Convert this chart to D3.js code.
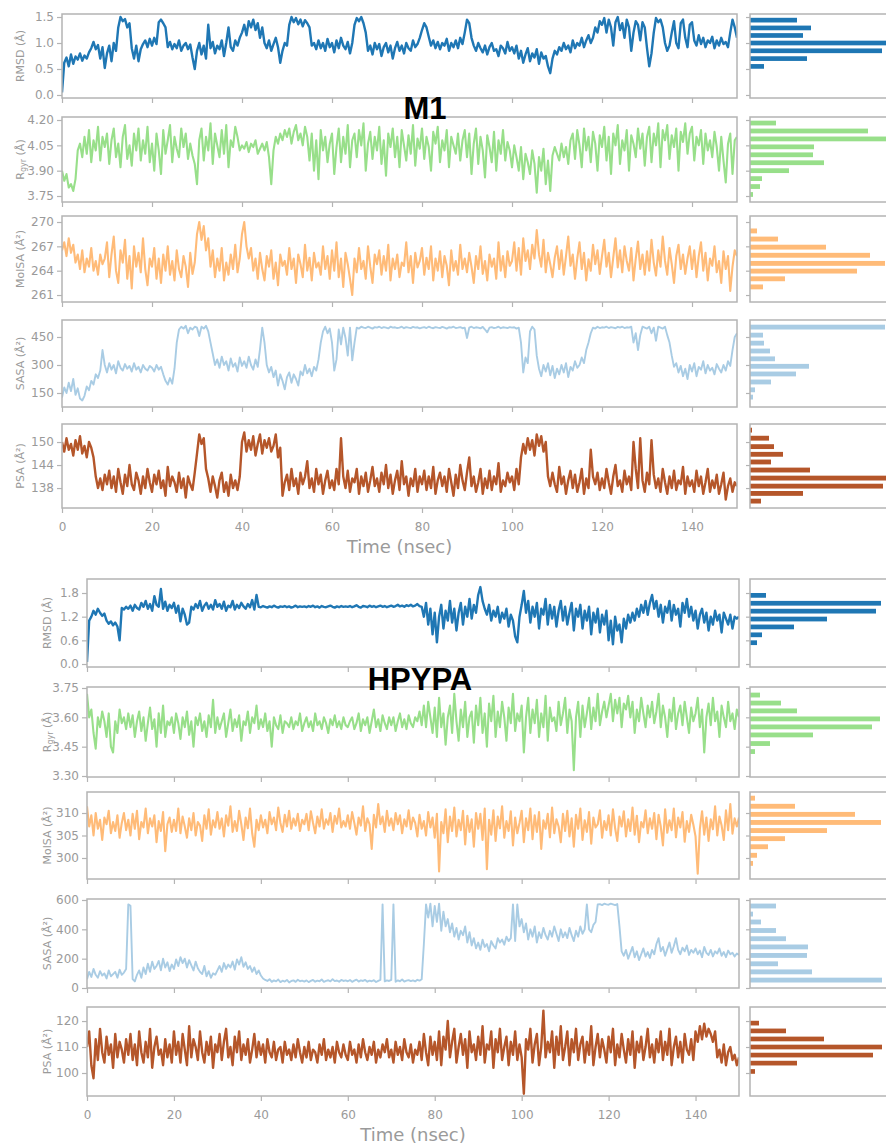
<!DOCTYPE html>
<html><head><meta charset="utf-8">
<script src="https://cdn.jsdelivr.net/npm/d3@7"></script>
<style>body{margin:0;background:#fff}svg{display:block}</style>
</head><body>
<svg id="chart" width="886" height="1146"></svg>
<script>
// ---------- DATA ----------
const timeStep = 0.5; // ns between samples
const xTickValues = [0, 20, 40, 60, 80, 100, 120, 140];
const figureTitles = ["M1", "HPYPA"];
const axisTitle = "Time (nsec)";
const seriesLabels = ["RMSD (Å)", "Rgyr (Å)", "MolSA (Å²)", "SASA (Å²)", "PSA (Å²)"];

// M1 time series
const m1Rmsd = [
0.05,0.62,0.72,0.55,0.78,0.6,0.74,0.68,0.8,0.66,0.76,0.7,0.82,0.9,1.02,0.88,0.96,0.7,0.92,0.52,
0.8,0.95,0.65,1.0,0.85,1.3,1.5,1.42,1.46,1.3,1.38,0.9,0.7,0.95,0.65,0.88,0.98,1.05,0.92,1.08,
0.95,1.1,0.98,1.4,1.45,1.38,1.3,0.92,1.02,0.88,0.98,0.9,1.05,0.85,0.95,1.0,0.88,0.97,0.72,0.5,
0.85,1.0,0.78,0.95,0.7,1.35,0.9,1.02,0.8,0.95,0.88,1.05,0.75,1.0,1.3,0.92,0.85,1.05,0.95,1.1,
1.2,1.35,1.15,1.42,1.3,1.45,1.25,1.38,1.1,1.3,1.0,0.9,1.05,0.85,0.98,1.1,0.92,0.62,0.85,1.0,
0.95,1.35,1.5,1.4,1.48,1.36,1.45,1.32,1.44,1.38,1.3,0.95,1.0,0.88,1.05,0.9,1.0,0.85,1.08,0.92,
1.0,0.82,1.05,0.9,1.1,0.95,0.88,1.02,0.8,1.0,1.35,1.48,1.42,1.5,1.38,1.2,0.85,0.95,0.78,1.0,
0.88,0.98,0.75,0.92,1.0,0.82,0.95,0.7,0.9,1.02,0.85,0.95,0.8,1.0,0.9,0.85,1.05,0.92,0.98,1.1,
1.25,1.38,1.3,1.12,0.95,1.05,0.9,1.02,0.88,1.0,0.95,1.08,0.85,1.0,0.92,1.05,0.9,1.1,0.98,1.2,
1.45,1.38,1.1,0.95,0.85,1.0,0.9,0.82,0.95,0.78,0.92,1.0,0.85,0.88,0.75,0.95,0.9,0.8,1.02,0.85,
0.92,0.8,0.95,0.7,0.85,0.62,0.78,0.9,0.65,0.8,0.72,0.88,0.6,0.82,0.7,0.75,0.55,0.42,0.7,0.85,
0.78,0.92,0.85,1.0,0.88,0.95,0.82,1.05,0.9,1.0,0.95,1.1,0.92,1.05,1.15,1.0,1.1,1.3,1.2,1.42,
1.35,1.48,1.2,1.45,1.3,0.95,1.4,1.5,1.25,1.38,1.1,1.45,1.3,0.85,1.2,1.42,1.35,1.05,1.4,1.3,
0.9,0.55,0.8,1.2,1.48,1.4,1.45,1.3,1.0,0.85,0.95,1.2,1.42,1.0,0.9,1.38,1.45,1.1,0.92,1.35,
1.4,1.05,0.95,1.15,0.98,1.1,0.92,1.05,1.0,1.12,0.9,1.05,0.95,1.1,0.98,1.02,0.92,1.2,1.45,1.3,
1.1];
const m1Rgyr = [
3.9,3.84,3.88,3.8,3.82,3.78,3.85,4.02,4.06,3.98,4.1,4.0,4.14,3.95,4.08,4.02,4.16,3.96,4.1,4.04,
4.12,3.94,4.08,4.15,3.98,4.06,3.92,4.1,4.17,3.97,4.05,3.93,4.12,4.02,4.15,3.96,4.08,4.0,4.16,3.95,
4.06,3.9,4.12,4.02,3.88,4.14,4.0,4.08,4.17,3.95,4.1,4.03,3.98,4.15,4.04,4.12,3.97,4.06,3.99,3.94,
3.82,4.08,4.15,3.96,4.1,4.02,4.18,3.94,4.12,4.05,3.98,4.14,4.0,4.17,3.92,4.08,4.04,4.16,4.1,4.02,
4.05,4.03,4.07,4.01,4.06,4.04,4.08,4.0,4.03,4.06,4.02,4.07,3.98,3.82,4.02,4.1,4.06,4.12,4.08,4.14,
4.1,4.15,4.06,4.13,4.17,4.08,4.12,4.05,4.16,4.1,3.96,4.12,3.9,4.08,3.85,4.14,4.02,4.1,3.95,4.06,
4.12,3.88,4.04,4.15,3.95,4.1,4.0,4.17,3.92,4.08,4.12,3.98,4.14,4.05,4.18,3.9,4.06,4.13,3.97,4.1,
4.02,4.16,3.94,4.08,3.87,4.12,4.04,4.15,3.98,4.1,3.92,4.14,4.05,3.96,4.11,4.0,4.17,3.93,4.09,4.03,
4.15,3.97,4.1,4.04,3.9,4.13,4.06,4.16,3.95,4.08,4.02,4.14,3.92,4.1,4.05,4.0,4.12,3.96,4.08,4.14,
3.98,4.12,3.88,4.06,4.15,3.94,4.1,4.02,3.86,4.11,4.04,3.95,4.13,3.9,4.08,4.0,4.14,3.96,4.07,4.02,
3.92,4.05,3.98,3.9,4.04,3.85,4.0,3.95,3.88,4.02,3.94,3.77,3.98,3.9,4.03,3.82,3.96,3.78,3.99,4.04,
4.0,3.96,4.06,3.98,4.04,3.94,4.08,4.12,3.97,4.14,4.05,3.92,4.15,4.02,4.1,3.95,4.13,4.06,3.9,4.11,
4.04,4.16,3.96,4.1,3.88,4.12,4.05,4.17,3.94,4.08,4.02,4.14,3.9,4.11,4.06,3.98,4.15,4.03,4.12,3.93,
4.1,4.16,3.95,4.12,4.05,4.18,3.92,4.14,4.08,4.17,3.97,4.11,4.04,4.15,3.9,4.13,4.07,4.18,4.0,4.12,
4.16,3.96,4.1,4.05,4.14,3.94,4.12,4.02,4.08,3.98,4.13,4.04,3.9,4.1,3.96,3.83,4.06,4.12,3.88,4.08,
4.1];
const m1MolSA = [
266.5,267.5,265.8,268,266.2,267.2,265,266,264.2,266.5,263.8,265.5,264.5,266.8,264,265.2,263.5,266,264.8,265.5,
267.5,263.2,266,268.2,264,262.5,266.5,265,267.8,263,265.8,261.8,267,264.5,266.2,263.8,268,264.2,262.2,265.5,
264.5,266.8,263,265.5,262.5,266,264,267,263.5,265.2,262.8,266.5,264.2,263.2,265.8,264.5,262,266.2,263.6,265,
268.5,270,267.8,269.5,266.5,268,264.5,266.5,263.2,265.5,264,266.8,262.8,265,263.5,266,264.2,267.2,263.8,265.5,
268.5,270,267,265.5,266.8,264,265.5,263,266.2,264.2,262.8,265.8,264.5,266.5,263,265,262.2,266,264.6,265.2,
263.5,266.8,264.2,265.5,262.5,266,264.8,263.2,267.2,264,265.6,262.8,266.2,264.4,265,263.5,267,264.2,265.8,263,
266.5,264,267.5,263.2,265.5,262,266.2,264.8,263,261,265.5,263.8,266.8,264.2,265.2,263,267,264.5,262.5,266,
264.8,266.5,263.5,265.8,264,267.2,262.8,265.5,264.2,266,263.2,265,264.6,267.5,263.8,265.8,262.5,266.2,264.4,265.2,
266.8,263.5,265.6,264.2,267,262.8,265.5,264,266.4,263.2,265.8,264.6,262.2,266.5,264,265.2,263.5,267.2,264.2,265.5,
263.8,266.2,264.5,262.5,265.8,264.2,267,263.6,265.2,262.8,266,264.5,265.5,263,267.5,264,265.8,263.2,266.4,264.6,
265.2,267.5,264,266.8,263.5,268,265.2,266.5,264.2,267.2,265.5,269,266,264.5,267.8,263.8,266.2,264.8,263.2,265.6,
267,264.2,266.5,263.5,265.8,268.2,264.6,266,263,265.5,267.5,264.2,266.2,262.8,265.4,264,267.2,264.8,266.5,263.6,
265.8,267.8,264.5,266.2,263.2,265.6,268,264.4,266.5,263.8,267,265.2,264,266.8,262.8,265.5,267.6,264.2,266,263.5,
266.4,264,267.8,265,263.4,266.5,264.5,268.2,265.2,263.5,266.8,264.8,262.5,265.8,267.2,264.2,266,263.6,265.5,267,
264.2,266.5,263.2,265.8,267.5,264,266.2,262.8,265.5,264.6,267,263.8,265.2,262.5,266.4,264.2,265.8,261.5,264.5,266.5,
265.8];
const m1Sasa = [
125,180,150,205,160,225,140,175,120,110,135,185,165,215,195,250,230,270,380,300,
260,310,275,300,255,320,285,270,305,280,295,265,310,275,290,260,300,280,270,295,
285,265,300,275,290,250,215,195,230,200,280,420,490,505,495,510,470,500,490,505,
500,455,505,495,510,480,420,360,300,330,285,345,300,320,270,335,290,310,265,340,
295,320,285,345,300,275,330,290,385,500,420,300,260,290,235,270,190,250,215,170,
235,260,205,250,225,190,265,245,300,255,280,240,290,270,330,420,480,505,470,495,
420,270,330,490,410,500,445,350,500,325,420,500,495,505,500,498,505,500,495,503,
500,505,498,503,500,496,505,500,502,498,500,505,497,503,500,498,504,500,502,496,
500,503,498,505,500,497,503,500,498,504,500,495,502,500,505,498,500,503,497,500,
445,500,505,498,502,500,496,504,490,475,500,503,498,500,505,497,502,500,498,503,
500,502,495,500,420,260,340,310,480,505,490,350,280,240,300,265,310,245,295,230,
280,250,300,260,310,235,290,270,320,285,300,340,310,380,420,470,500,495,505,498,
502,500,505,498,503,500,497,504,500,505,498,502,500,505,420,470,380,460,505,500,
495,505,470,500,430,505,500,495,505,460,420,350,290,310,260,295,240,280,225,300,
265,310,240,290,275,320,255,300,270,285,250,305,280,260,300,270,320,295,380,450,
470];
const m1Psa = [
150,147.5,151,148,149.5,146.5,150.5,148,151.5,147,149,146,150,148.5,146,141,138,140.5,137.5,141.5,
139,142.5,138,141,137,143,139.5,136.5,141.5,138.5,144,139,137.5,142,140,136.5,141,138,143,139.5,
137,141.5,139,142.5,138,140,136,143.5,138.5,141,139.5,137,142,138,140.5,135.5,141,139,137.5,142,
147,152,149.5,151,143,140.5,137,141,138.5,135.5,140,142,137,139.5,136,141.5,138,140,137.5,141,
150,152.5,147.5,150.5,148,151.5,146.5,149.5,152,147,150.5,148.5,151,147.5,149,152,146,148.5,136,139.5,
141.5,137.5,143,138.5,140.5,136.5,142,139,141,145,138,140.5,137,143,139,141.5,136.5,140,142.5,138,
140,137.5,143,139,151,141,138,142.5,137,140.5,139.5,143,136.5,141,138.5,142,137,140,143.5,138.5,
140.5,137,142,139,144,138,141.5,136.5,140,142.5,137.5,145,139,141,136,140.5,138.5,143,137,141,
139,142.5,137.5,141,138,143.5,136.5,140,142,138.5,141,137,143,139.5,136,141.5,138,144,140,137.5,
142,146,138.5,141,137,139.5,143,136.5,140.5,138,142.5,137.5,141,139,144.5,137,140,138.5,142,139.5,
141,137.5,143,139,146,149.5,147,151,148,150.5,146.5,152,149,151.5,147.5,150,141,138.5,142,139,
137,143.5,139,141,136.5,140,142.5,138,141.5,137,139.5,143,136.5,140.5,138,148,141,139,142,137.5,
140.5,138,143,139.5,136.5,141,144,138.5,140,137,142.5,139,141,137.5,150,143,138,151,140,137,
142,139,150.5,141.5,138,140.5,137,143,139.5,136.5,141,138,142.5,137.5,140,139,143.5,136.5,141,138.5,
140,137,142.5,138.5,141,136.5,139.5,143,137,140,138,141.5,136.5,139,142,135,138.5,140.5,137,139.5,
138.5];

// HPYPA time series
const hpRmsd = [
0.05,1.1,1.2,1.35,1.25,1.4,1.3,1.22,1.28,1.1,1.02,1.08,0.98,1.05,0.95,0.6,1.42,1.38,1.45,1.4,
1.48,1.35,1.5,1.42,1.38,1.55,1.45,1.6,1.4,1.52,1.35,1.72,1.5,1.45,1.9,1.4,1.58,1.35,1.5,1.42,
1.55,1.3,1.48,1.08,1.4,1.25,1.0,1.05,1.45,1.38,1.52,1.42,1.6,1.35,1.48,1.55,1.4,1.5,1.38,1.62,
1.45,1.52,1.4,1.58,1.35,1.48,1.44,1.6,1.38,1.5,1.42,1.55,1.46,1.4,1.52,1.44,1.62,1.38,1.75,1.45,
1.44,1.47,1.45,1.43,1.46,1.44,1.48,1.45,1.43,1.46,1.45,1.47,1.44,1.46,1.43,1.45,1.48,1.44,1.46,1.45,
1.46,1.44,1.47,1.45,1.48,1.44,1.46,1.43,1.47,1.45,1.44,1.46,1.48,1.45,1.43,1.46,1.44,1.47,1.45,1.46,
1.45,1.47,1.44,1.46,1.49,1.45,1.43,1.47,1.46,1.44,1.48,1.45,1.47,1.44,1.46,1.48,1.45,1.47,1.44,1.46,
1.48,1.45,1.47,1.5,1.46,1.48,1.45,1.49,1.47,1.5,1.46,1.48,1.52,1.47,1.45,1.2,1.55,1.0,1.4,0.75,
1.3,0.55,1.2,1.5,0.9,1.35,1.1,1.6,1.05,1.4,0.85,1.3,1.55,1.0,1.45,1.2,1.65,1.15,1.5,1.3,
1.75,1.95,1.6,1.4,1.25,1.5,1.1,1.35,1.2,1.45,1.05,1.3,1.15,1.4,0.95,1.25,1.1,0.7,0.55,1.2,
1.5,1.85,1.3,1.6,1.05,1.45,1.2,1.55,0.9,1.4,1.25,1.65,1.0,1.5,1.15,1.45,0.95,1.35,1.6,1.1,
1.45,1.0,1.3,1.55,0.85,1.4,1.2,1.5,0.9,1.35,1.1,1.45,0.75,1.3,1.05,1.4,0.8,1.25,1.0,1.35,
0.6,1.1,0.5,1.2,0.85,1.0,0.55,1.15,0.9,1.25,1.05,1.3,1.1,1.4,1.2,1.5,1.3,1.6,1.25,1.55,
1.75,1.4,1.6,1.2,1.5,1.05,1.45,1.3,1.6,1.1,1.5,1.25,1.4,0.95,1.55,1.3,1.65,1.2,1.45,1.1,
1.35,0.9,1.25,1.4,1.05,1.3,0.85,1.2,1.0,1.35,1.1,1.25,0.8,1.3,1.15,1.0,1.25,0.9,1.2,1.15,
1.2];
const hpRgyr = [
3.72,3.6,3.64,3.52,3.44,3.6,3.55,3.63,3.58,3.5,3.62,3.45,3.42,3.58,3.52,3.64,3.57,3.6,3.54,3.62,
3.55,3.61,3.5,3.58,3.63,3.53,3.6,3.48,3.57,3.65,3.54,3.59,3.45,3.62,3.52,3.66,3.5,3.58,3.56,3.6,
3.52,3.62,3.57,3.49,3.6,3.55,3.63,3.51,3.58,3.45,3.6,3.56,3.62,3.53,3.58,3.5,3.61,3.55,3.69,3.52,
3.6,3.54,3.58,3.62,3.5,3.57,3.64,3.53,3.59,3.55,3.61,3.48,3.58,3.56,3.63,3.52,3.6,3.57,3.66,3.54,
3.59,3.55,3.62,3.53,3.58,3.45,3.6,3.56,3.54,3.61,3.52,3.58,3.57,3.55,3.6,3.54,3.58,3.56,3.62,3.53,
3.57,3.6,3.55,3.58,3.53,3.62,3.56,3.58,3.54,3.6,3.57,3.52,3.59,3.56,3.61,3.55,3.58,3.54,3.6,3.56,
3.55,3.58,3.6,3.54,3.57,3.62,3.53,3.59,3.56,3.6,3.52,3.58,3.64,3.55,3.59,3.53,3.61,3.57,3.54,3.6,
3.56,3.6,3.53,3.58,3.62,3.55,3.59,3.54,3.61,3.57,3.55,3.6,3.58,3.63,3.56,3.66,3.55,3.68,3.6,3.52,
3.65,3.5,3.7,3.55,3.62,3.46,3.6,3.66,3.52,3.72,3.58,3.48,3.64,3.55,3.68,3.5,3.6,3.63,3.47,3.66,
3.56,3.7,3.52,3.62,3.45,3.67,3.58,3.71,3.5,3.63,3.55,3.68,3.6,3.48,3.65,3.57,3.72,3.53,3.62,3.58,
3.66,3.42,3.6,3.7,3.52,3.64,3.57,3.69,3.5,3.62,3.55,3.71,3.48,3.65,3.58,3.6,3.53,3.68,3.56,3.62,
3.7,3.52,3.64,3.58,3.33,3.6,3.68,3.5,3.66,3.55,3.62,3.7,3.54,3.65,3.58,3.72,3.56,3.63,3.68,3.6,
3.66,3.72,3.58,3.69,3.62,3.7,3.55,3.67,3.64,3.71,3.6,3.68,3.52,3.64,3.58,3.7,3.62,3.55,3.66,3.6,
3.68,3.57,3.63,3.72,3.55,3.66,3.6,3.5,3.64,3.58,3.7,3.54,3.62,3.66,3.56,3.68,3.6,3.52,3.65,3.58,
3.62,3.7,3.55,3.64,3.42,3.6,3.67,3.56,3.7,3.58,3.63,3.5,3.66,3.6,3.55,3.68,3.58,3.62,3.54,3.64,
3.6];
const hpMolSA = [
311.5,307,309.5,305,310,306.5,308.5,304,309,307.5,310.5,305.5,308,306,309.5,304.5,307.8,310,306.2,308.5,
305,309.8,306.5,310.5,304.2,308,306.8,311,305.5,308.8,307,309.5,303.5,308.2,306,310.2,301.5,307.5,309,305.8,
308.5,306,311,305.5,309.2,307,304.5,308.8,306.2,310,305,308,307.2,303.8,309.5,306.5,310.8,305.2,308.4,306.8,
310.2,306.5,308.8,304.8,309.5,307.2,311.5,305.8,308.2,306,310.5,307.5,304,309,306.6,311,305.5,302.5,308.5,306.2,
309.5,306.8,308.5,305.5,310.2,307.5,309,306.2,311.2,307.8,305.8,309.6,307,310.5,306.5,308.8,307.2,309.8,306,308.5,
307.5,309.8,306.2,310.4,307.8,305.5,309.2,307,310.8,306.5,308.6,307.4,310,305.8,309.4,307.6,311,306.8,308.2,307,
309.5,306.5,310.2,307.8,305.2,309,307.2,311.5,306,308.8,307.5,302,309.6,306.8,312,307.5,309.2,305.8,310.5,307.2,
308.8,306.2,310,307.5,309.5,305.5,308.6,307,310.6,306.4,309,307.8,304.8,309.6,306.5,308.2,305,310.2,306.8,309,
304.5,309.8,297,308,305.5,310.8,303.5,309.2,306,311.2,304.8,308.5,306.2,310.5,303,309.4,305.8,308.6,302.5,310,
306.5,309.8,304,311,297.5,308.5,305.2,310.6,303.8,309.2,306.6,311.5,304.5,308.2,306,310.4,302.8,309,305.5,307.8,
310.5,303.5,308.8,306.2,311,304.2,309.5,305.8,310.2,302,308.4,306.5,309.8,304.6,311.2,305.5,308.6,307,303.5,309.8,
306,310.5,304.8,308.8,302.5,309.6,306.5,311,304,308.4,305.8,310.2,303.2,309,306.8,307.5,310.6,304.5,308.2,306.2,
309.5,305,310.8,306.6,303.8,309.2,307,310.4,304.8,308.6,306,311.2,305.2,309.4,303.5,308,306.8,310.6,305.5,308.8,
306.5,310,304.2,309.6,307,302.8,310.8,305.6,308.4,306.2,311,304.6,309,306.8,310.2,303.6,308.2,305.8,309.6,307.4,
304.8,296.5,306.5,310.4,305.2,309,303.8,308.6,306.4,311.5,305,309.2,307.2,304,310.6,306.2,312,305.4,308.8,307,
309];
const hpSasa = [
60,110,75,130,90,70,115,85,100,65,120,80,95,110,70,125,90,105,130,570,
560,60,45,90,120,70,140,95,165,110,180,130,150,185,120,200,140,175,115,160,
130,195,150,210,170,200,140,190,155,120,180,135,110,95,150,80,115,70,100,90,
120,150,110,170,130,160,140,180,125,195,160,210,145,175,130,150,110,140,95,120,
85,65,55,48,60,42,52,45,58,40,50,44,55,38,48,52,42,56,46,50,
44,52,40,48,55,43,50,46,58,42,49,53,45,60,47,51,43,55,48,52,
46,54,42,50,57,44,52,48,55,43,50,46,53,41,49,55,570,45,52,48,
55,570,43,52,46,58,44,50,54,47,52,45,56,50,60,300,570,480,575,420,
560,450,575,390,520,420,470,380,440,350,410,330,390,360,420,310,380,290,340,270,
310,260,330,280,300,250,320,290,270,340,310,330,295,350,320,340,570,320,570,420,
470,380,440,330,400,350,420,310,380,340,410,360,330,390,350,420,370,320,400,345,
380,340,410,360,320,390,350,420,370,400,570,400,380,430,450,570,572,565,575,570,
568,575,570,565,572,420,250,220,260,200,240,280,210,250,190,230,270,215,245,205,
260,230,300,340,250,280,220,265,310,240,285,340,260,230,275,250,290,225,260,240,
270,230,255,210,280,240,225,260,215,250,235,270,220,245,210,255,230,240,215,235,
225];
const hpPsa = [
110,116,103,98,113,105,117,108,104,114,107,111,102,115,106,112,109,104,113,107,
115,105,111,103,116,108,104,112,106,117,102,110,114,107,109,103,113,106,111,104,
116,107,112,104,115,109,103,118,106,113,110,105,116,108,104,112,107,114,102,111,
108,115,105,112,117,106,110,103,114,108,116,105,111,107,113,104,109,115,106,112,
107,111,104,113,108,106,112,105,109,110,104,112,107,109,105,111,106,113,108,104,
110,106,112,105,109,108,104,111,107,113,105,109,106,110,104,112,108,106,111,107,
105,112,107,109,104,111,106,113,108,105,110,107,112,104,109,106,111,108,113,106,
109,104,112,107,110,105,113,108,106,111,104,109,107,112,105,115,108,103,114,107,
112,105,116,103,114,109,120,106,112,117,104,110,115,107,113,102,116,108,111,105,
114,107,118,104,111,109,116,102,113,108,117,105,110,114,103,112,107,116,105,111,
106,92,113,109,117,104,111,115,103,110,124,106,112,108,116,102,114,107,118,105,
110,116,103,113,108,117,105,111,114,104,112,107,118,103,110,115,106,113,109,104,
114,108,117,103,111,106,115,109,104,113,107,116,102,112,108,114,105,110,117,106,
111,104,113,108,116,105,112,107,117,103,110,114,106,112,104,115,109,107,113,105,
116,112,118,113,119,114,117,115,112,116,106,109,104,111,103,108,110,105,107,103,
106];

// Histograms (bin centre, relative count)
const m1RmsdBins = [1.44,1.29,1.145,1.0,0.85,0.7,0.55];
const m1RmsdCounts = [47,61,53,136,132,57,14];
const m1RgyrBins = [4.182,4.135,4.088,4.041,3.994,3.947,3.9,3.853,3.806,3.759];
const m1RgyrCounts = [26,118,136,64,63,74,39,12,10,3];
const m1MolSABins = [268.9,267.9,266.9,265.9,264.9,263.95,263.0,262.0];
const m1MolSACounts = [7,28,76,120,135,107,35,13];
const m1SasaBins = [503,460,417,375,333,293,252,209,167,128];
const m1SasaCounts = [135,13,14,20,25,59,46,21,5,3];
const m1PsaBins = [153.1,151.0,148.8,146.8,144.8,142.7,140.6,138.5,136.6,134.6];
const m1PsaCounts = [2,19,24,33,21,60,136,133,53,11];

const hpRmsdBins = [1.74,1.54,1.34,1.14,0.94,0.74,0.54];
const hpRmsdCounts = [16,131,126,77,44,12,7];
const hpRgyrBins = [3.714,3.673,3.633,3.592,3.551,3.51,3.466,3.425];
const hpRgyrCounts = [10,31,47,130,122,63,20,5];
const hpMolSABins = [313.3,311.5,309.7,307.9,306.1,304.3,302.5,300.6,298.8];
const hpMolSACounts = [5,45,105,131,77,35,18,7,3];
const hpSasaBins = [559,504,450,392,336,280,222,165,110,54];
const hpSasaCounts = [26,3,11,26,36,58,57,28,62,132];
const hpPsaBins = [119.2,116.2,113.1,110.0,106.9,103.8,100.6];
const hpPsaCounts = [9,36,74,132,123,47,5];

// Tick values
const m1YTicks = [[0,0.5,1.0,1.5],[3.75,3.90,4.05,4.20],[261,264,267,270],[150,300,450],[138,144,150]];
const hpYTicks = [[0,0.6,1.2,1.8],[3.30,3.45,3.60,3.75],[300,305,310],[0,200,400,600],[100,110,120]];

// ---------- LAYOUT / STYLE ----------
const colors = ["#1f77b4", "#98df8a", "#ffbb78", "#a9cce4", "#b5562a"];
const lineWidths = [2.4, 2.1, 2.1, 1.9, 2.4];
const tickFormats = [d3.format(".1f"), d3.format(".2f"), d3.format("d"), d3.format("d"), d3.format("d")];
const frameColor = "#b4b4b4";
const textColor = "#9a9a9a";
const histMax = 136;

const figures = [
  {
    title: figureTitles[0], titleX: 425, titleY: 119, left: 62, right: 737, histLeft: 750, histWidth: 136,
    labelX: 21, xLabelY: 553, xTickLabelPad: 9,
    series: [m1Rmsd, m1Rgyr, m1MolSA, m1Sasa, m1Psa],
    bins: [m1RmsdBins, m1RgyrBins, m1MolSABins, m1SasaBins, m1PsaBins],
    counts: [m1RmsdCounts, m1RgyrCounts, m1MolSACounts, m1SasaCounts, m1PsaCounts],
    ticks: m1YTicks,
    boxes: [[14,98],[117,202],[216,302],[320,407],[424,508]],
    domains: [[-0.058,1.558],[3.7145,4.2178],[260.14,270.74],[75,541],[132.8,154.7]]
  },
  {
    title: figureTitles[1], titleX: 420, titleY: 690, left: 87, right: 739, histLeft: 750, histWidth: 136,
    labelX: 48, xLabelY: 1141, xTickLabelPad: 9,
    series: [hpRmsd, hpRgyr, hpMolSA, hpSasa, hpPsa],
    bins: [hpRmsdBins, hpRgyrBins, hpMolSABins, hpSasaBins, hpPsaBins],
    counts: [hpRmsdCounts, hpRgyrCounts, hpMolSACounts, hpSasaCounts, hpPsaCounts],
    ticks: hpYTicks,
    boxes: [[579,667],[687,777],[792,879],[899,988],[1007,1096]],
    domains: [[-0.076,2.155],[3.2949,3.7551],[295.33,314.67],[0,606.8],[91.15,125.4]]
  }
];

const svg = d3.select("#chart");
svg.append("rect").attr("width", 886).attr("height", 1146).attr("fill", "#fff");
const defs = svg.append("defs");

function styleAxis(g) {
  g.select(".domain").remove();
  g.selectAll(".tick line").attr("stroke", frameColor).attr("stroke-width", 1.2);
  g.selectAll(".tick text").attr("fill", textColor).attr("font-family", "DejaVu Sans, sans-serif").attr("font-size", 12);
}

figures.forEach((fig, fi) => {
  const x = d3.scaleLinear().domain([0, 150]).range([fig.left, fig.right]);
  fig.series.forEach((series, pi) => {
    const [top, bottom] = fig.boxes[pi];
    const y = d3.scaleLinear().domain(fig.domains[pi]).range([bottom, top]);
    const g = svg.append("g");
    const clipId = `clip-${fi}-${pi}`;
    defs.append("clipPath").attr("id", clipId).append("rect")
      .attr("x", fig.left).attr("y", top).attr("width", fig.right - fig.left).attr("height", bottom - top);

    // time-series line
    g.append("path").datum(series)
      .attr("clip-path", `url(#${clipId})`)
      .attr("fill", "none").attr("stroke", colors[pi]).attr("stroke-width", lineWidths[pi])
      .attr("stroke-linejoin", "round")
      .attr("d", d3.line().x((d, i) => x(i * timeStep)).y(d => y(d)));

    // frame
    g.append("rect").attr("x", fig.left).attr("y", top)
      .attr("width", fig.right - fig.left).attr("height", bottom - top)
      .attr("fill", "none").attr("stroke", frameColor).attr("stroke-width", 1.5);

    // y axis
    g.append("g").attr("transform", `translate(${fig.left},0)`)
      .call(d3.axisLeft(y).tickValues(fig.ticks[pi]).tickFormat(tickFormats[pi]).tickSize(5).tickPadding(3))
      .call(styleAxis);

    // x axis
    const isLast = pi === fig.series.length - 1;
    g.append("g").attr("transform", `translate(0,${bottom})`)
      .call(d3.axisBottom(x).tickValues(xTickValues).tickSize(5).tickPadding(fig.xTickLabelPad)
        .tickFormat(isLast ? d3.format("d") : () => ""))
      .call(styleAxis);

    // y label
    const lbl = g.append("text")
      .attr("transform", `translate(${fig.labelX},${(top + bottom) / 2}) rotate(-90)`)
      .attr("text-anchor", "middle").attr("dominant-baseline", "middle")
      .attr("fill", textColor).attr("font-family", "DejaVu Sans, sans-serif").attr("font-size", 11);
    if (pi === 1) {
      lbl.append("tspan").text("R");
      lbl.append("tspan").attr("font-size", 8).attr("dy", 2).text("gyr");
      lbl.append("tspan").attr("dy", -2).text(" (Å)");
    } else {
      lbl.text(seriesLabels[pi]);
    }

    // histogram panel
    const hx = d3.scaleLinear().domain([0, histMax]).range([fig.histLeft, fig.histLeft + fig.histWidth]);
    const bins = fig.bins[pi];
    const binSpan = Math.abs(y(bins[0]) - y(bins[1]));
    const hg = svg.append("g");
    hg.selectAll("rect.bar").data(bins).join("rect").attr("class", "bar")
      .attr("x", hx(0))
      .attr("y", d => y(d) - binSpan * 0.3)
      .attr("width", (d, i) => hx(fig.counts[pi][i]) - hx(0))
      .attr("height", binSpan * 0.6)
      .attr("fill", colors[pi]);
    hg.append("rect").attr("x", fig.histLeft).attr("y", top)
      .attr("width", fig.histWidth + 10).attr("height", bottom - top)
      .attr("fill", "none").attr("stroke", frameColor).attr("stroke-width", 1.5);
    hg.append("g").attr("transform", `translate(${fig.histLeft},0)`)
      .call(d3.axisLeft(y).tickValues(fig.ticks[pi]).tickSize(4).tickFormat(() => ""))
      .call(styleAxis);
  });

  // title
  svg.append("text").attr("x", fig.titleX).attr("y", fig.titleY)
    .attr("text-anchor", "middle").attr("font-family", "Liberation Sans, Arial, sans-serif")
    .attr("font-weight", "bold").attr("font-size", 31).attr("fill", "#000").text(fig.title);

  // x label
  svg.append("text").attr("x", (fig.left + fig.right) / 2).attr("y", fig.xLabelY)
    .attr("text-anchor", "middle").attr("font-family", "DejaVu Sans, sans-serif")
    .attr("font-size", 18).attr("fill", textColor).text(axisTitle);
});
</script>
</body></html>
